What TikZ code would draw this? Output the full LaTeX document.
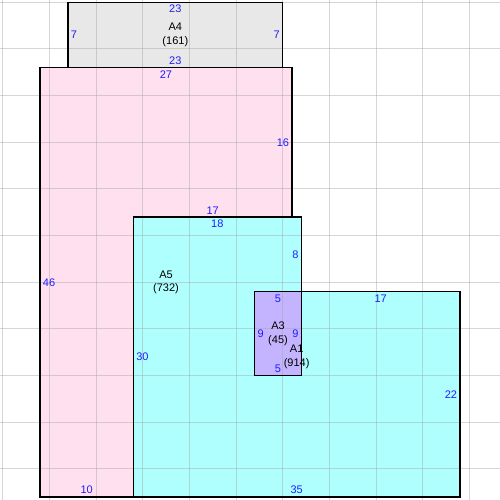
\documentclass[tikz,border=0pt]{standalone}
\usepackage{fontspec}
\setmainfont{Liberation Sans}
\definecolor{gridgray}{RGB}{165,165,165}
\definecolor{roomgray}{RGB}{232,232,232}
\definecolor{roompink}{RGB}{255,224,238}
\definecolor{roomcyan}{RGB}{176,255,255}
\definecolor{roompurple}{RGB}{196,180,255}
\definecolor{lenblue}{RGB}{30,30,255}
\newcommand{\lenlabel}[5]{\node[lenlabel, anchor=#2] (#1) at (#3,#4) {#5};}
\newcommand{\roomlabel}[4]{\node[roomname] (#1) at (#2,#3) {#1\\(#4)};}

\begin{document}
\begin{tikzpicture}[x=7pt, y=7pt,
    gridline/.style={draw=gridgray, line width=0.75pt, opacity=0.45},
    wall/.style={draw=black, line width=0.8pt},
    lenlabel/.style={text=lenblue, inner sep=2pt, font=\fontsize{8.25}{9.5}\selectfont},
    roomname/.style={align=center, inner sep=0pt, font=\fontsize{8.25}{10}\selectfont}]
    \useasboundingbox (-4.2857,-0.3214) rectangle (49.2857,53.25);

    % fills
    \fill[roomgray] (3,46) rectangle (26,53);
    \fill[roompink] (0,0) -- (0,46) -- (27,46) -- (27,30) -- (10,30) -- (10,0) -- cycle;
    \fill[roomcyan] (10,0) -- (10,30) -- (28,30) -- (28,22) -- (45,22) -- (45,0) -- cycle;
    \fill[roompurple] (23,13) rectangle (28,22);

    % grid
    \foreach \gx in {-4,1,...,46} \draw[gridline] (\gx,-0.33) -- (\gx,53.26);
    \foreach \gy in {-2,3,...,53} \draw[gridline] (-4.29,\gy) -- (49.29,\gy);

    % walls
    \draw[wall] (3,46) rectangle (26,53);
    \draw[wall] (0,0) -- (0,46) -- (27,46) -- (27,30) -- (10,30) -- (10,0) -- cycle;
    \draw[wall] (10,0) -- (10,30) -- (28,30) -- (28,22) -- (45,22) -- (45,0) -- cycle;
    \draw[wall] (23,13) rectangle (28,22);

    % A4
    \lenlabel{a4t}{north}{14.5}{53}{23}
    \lenlabel{a4b}{south}{14.5}{46}{23}
    \lenlabel{a4l}{west}{3}{49.5}{7}
    \lenlabel{a4r}{east}{26}{49.5}{7}
    % A5
    \lenlabel{a5t}{north}{13.5}{46}{27}
    \lenlabel{a5r}{east}{27}{38}{16}
    \lenlabel{a5s}{south}{18.5}{30}{17}
    \lenlabel{a5b}{south}{5}{0}{10}
    \lenlabel{a5l}{west}{0}{23}{46}
    % A1
    \lenlabel{a1t}{north}{19}{30}{18}
    \lenlabel{a1s}{east}{28}{26}{8}
    \lenlabel{a1u}{north}{36.5}{22}{17}
    \lenlabel{a1r}{east}{45}{11}{22}
    \lenlabel{a1b}{south}{27.5}{0}{35}
    \lenlabel{a1l}{west}{10}{15}{30}
    % A3
    \lenlabel{a3t}{north}{25.5}{22}{5}
    \lenlabel{a3l}{west}{23}{17.5}{9}
    \lenlabel{a3r}{east}{28}{17.5}{9}
    \lenlabel{a3b}{south}{25.5}{13}{5}

    \roomlabel{A4}{14.5}{49.5}{161}
    \roomlabel{A5}{13.5}{23}{732}
    \roomlabel{A1}{27.5}{15}{914}
    \roomlabel{A3}{25.5}{17.5}{45}
\end{tikzpicture}
\end{document}
